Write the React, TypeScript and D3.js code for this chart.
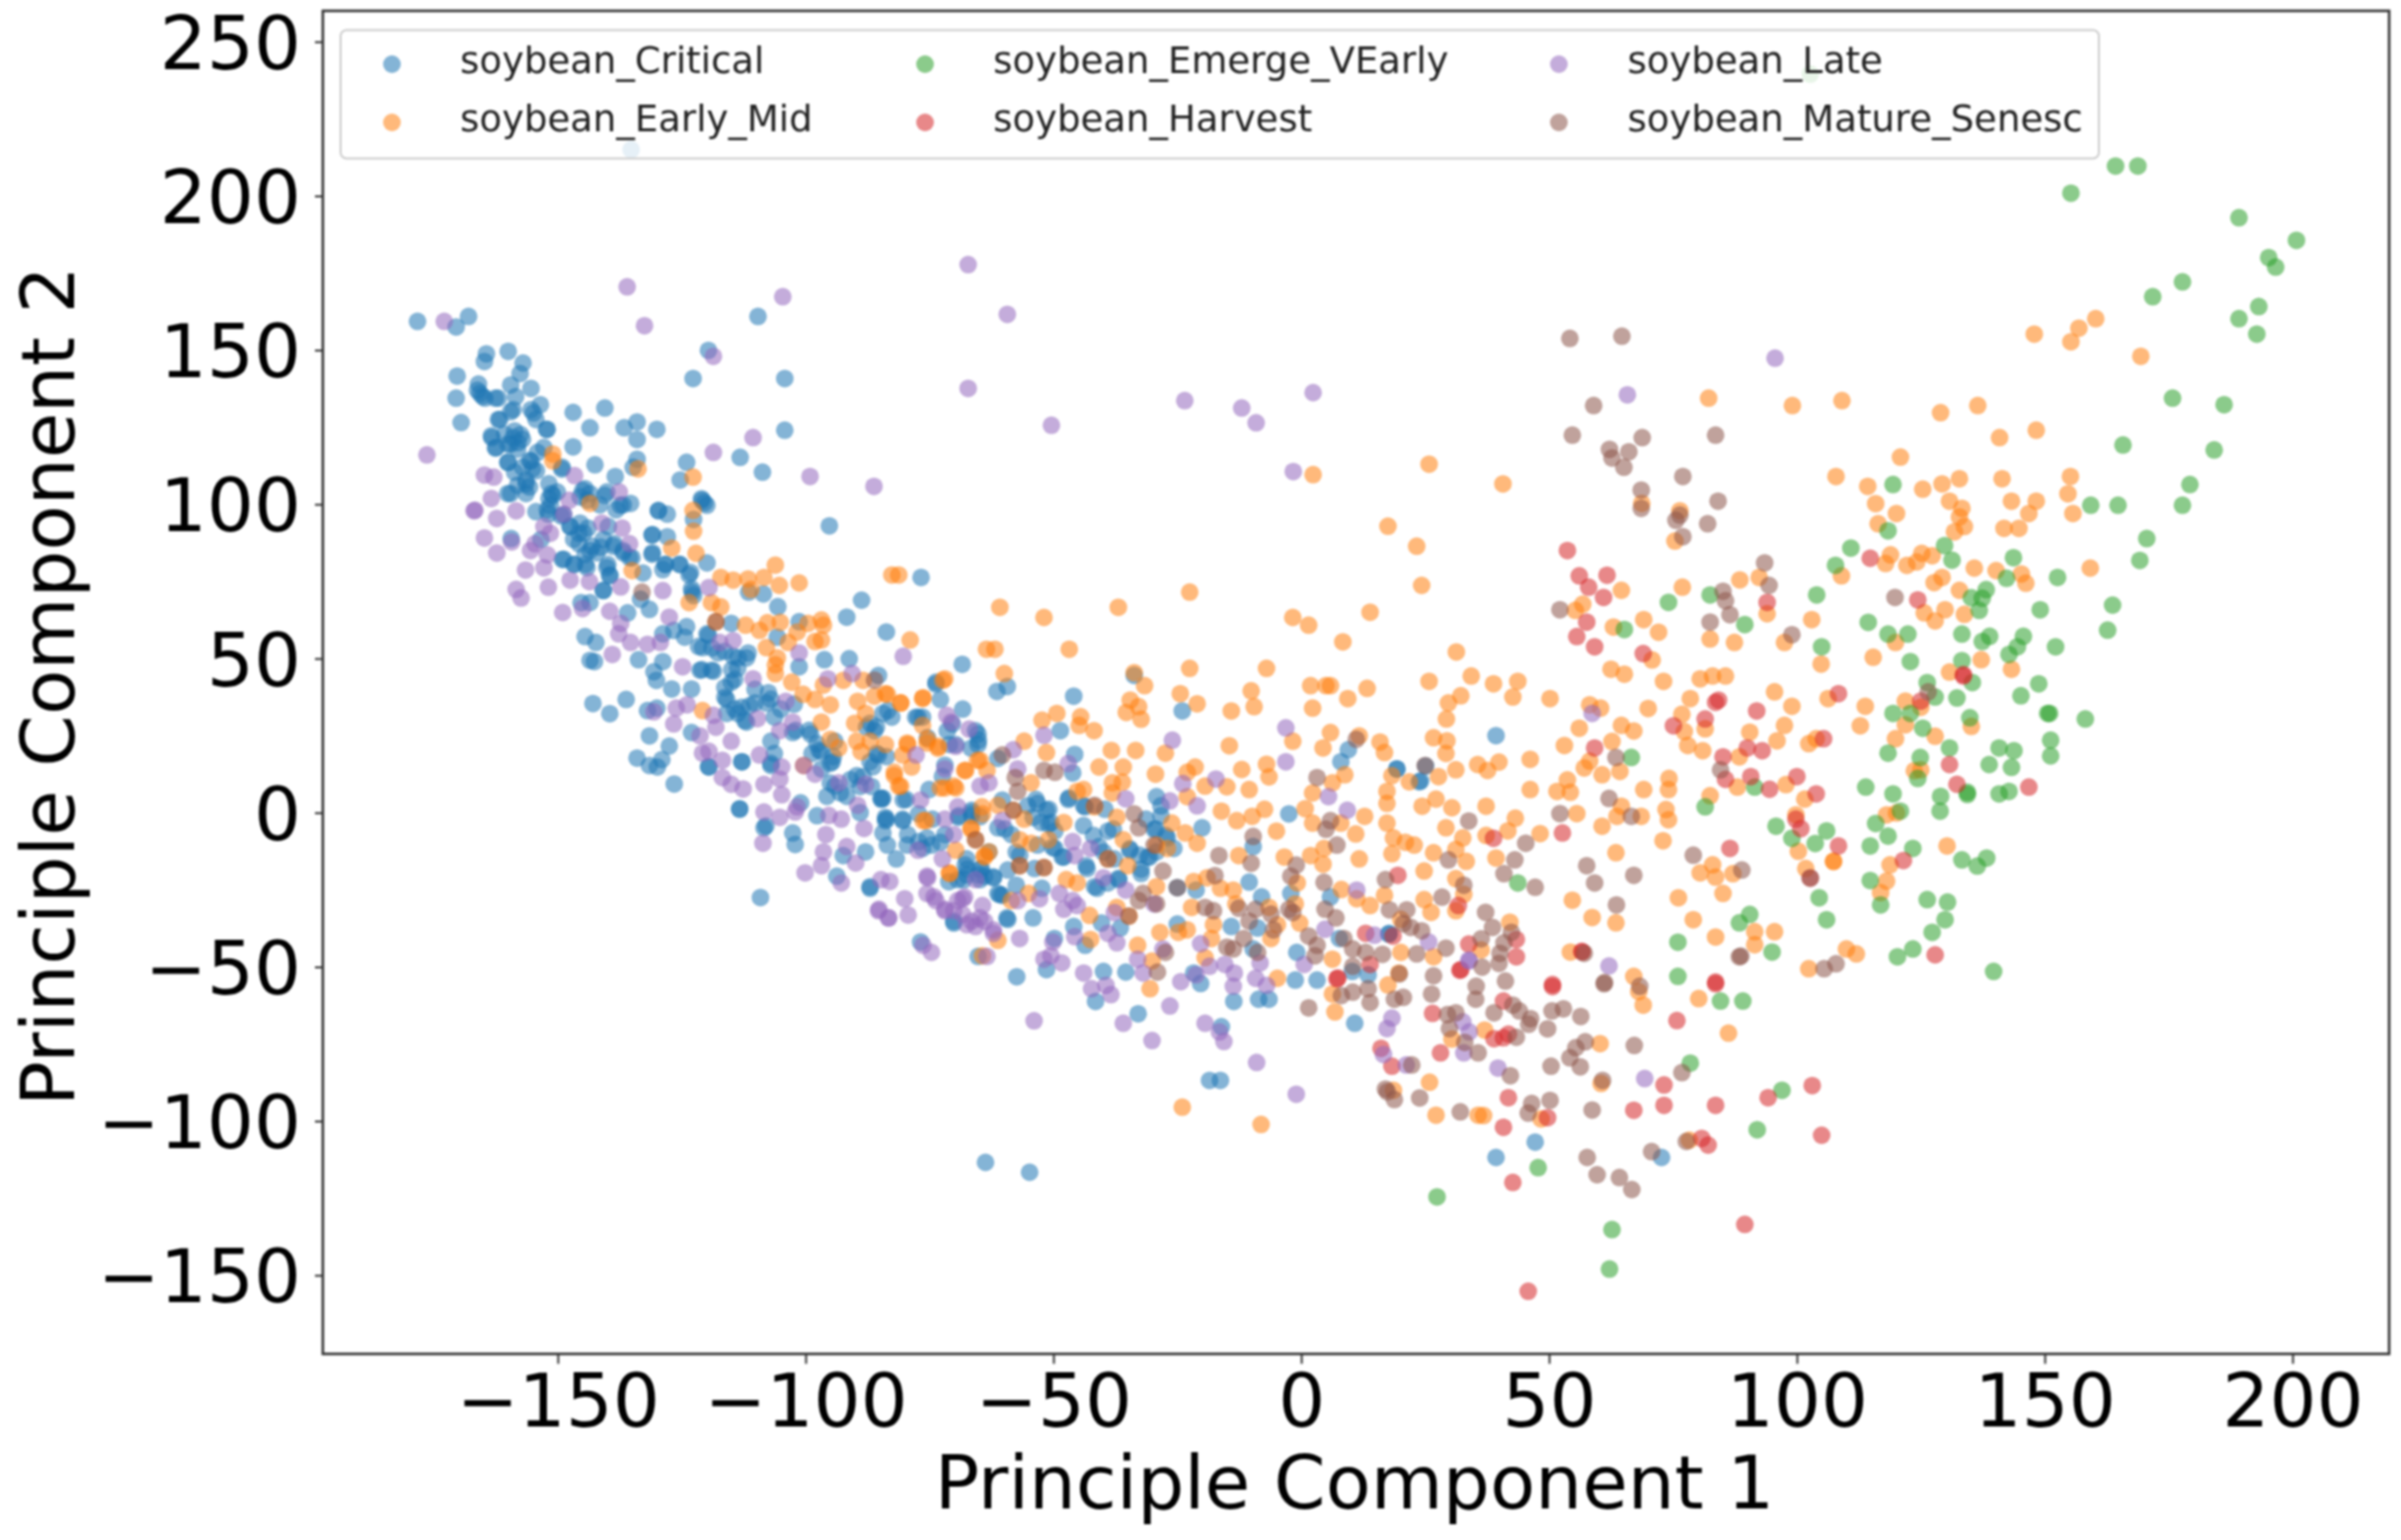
import React, { useEffect, useRef } from 'react';
import * as d3 from 'd3';

type Pt = [number, number];

const seriesNames = ['soybean_Critical', 'soybean_Early_Mid', 'soybean_Emerge_VEarly', 'soybean_Harvest', 'soybean_Late', 'soybean_Mature_Senesc'];
const seriesColors = ['#1f77b4', '#ff7f0e', '#2ca02c', '#d62728', '#9467bd', '#8c564b'];
const xTicks = [-150, -100, -50, 0, 50, 100, 150, 200];
const yTicks = [-150, -100, -50, 0, 50, 100, 150, 200, 250];

const critical: Pt[] = [
[-178.3,159.3],[-170.5,157.5],[-168,160.9],[-109.6,160.9],[-119.6,149.9],[-122.7,140.8],[-104.2,140.8],[-104.2,124],[-113.2,115.2],[-108.7,110.4],[-124,113.6],[-125.3,107.9],[-164.4,148.8],[-164.8,146.3],[-160,149.6],[-157,145.8],[-157.6,142.4],[-170.3,141.6],[-170.5,134.4],[-169.5,126.5],[-166,139],[-166.2,137],[-165.2,135],[-155.4,137.6],[-159.5,138.7],[-158.5,134.9],[-162.6,134.4],[-153.5,132.3],[-159.5,130],[-154.9,129.6],[-162,127.5],[-152.3,124.3],[-146.9,129.8],[-140.5,131.2],[-143.5,124.8],[-136.6,124.8],[-134,126.7],[-130,124.3],[-134,121],[-163.3,121.6],[-162.6,118.2],[-159,121.6],[-159.5,119.5],[-158,120],[-157.5,122.6],[-146.9,118.6],[-155.4,114],[-142.5,112.8],[-134,114.6],[-134.8,112],[-160,113.6],[-154.3,110.9],[-138.4,109],[-149.2,111.4],[-156.4,106.6],[-159.5,103.5],[-156.4,103.5],[-151.3,103.5],[-145,104.5],[-144,101.3],[-140.5,102.9],[-135.3,100.3],[-137.4,99.7],[-129.7,98],[-120.9,101.3],[-119.9,99.7],[-135.2,215],
[-159.4,88.9],[-151,102.9],[-151.5,99.6],[-151.9,96.8],[-149.3,96.2],[-147.5,92.8],[-145.7,90.6],[-143.9,92.3],[-145.7,87.2],[-143.5,85],[-141.3,86.1],[-138.6,87.2],[-136.8,85],[-135,82.7],[-139.9,80.5],[-139.5,77.1],[-148.8,82.2],[-146.6,80.5],[-144.4,80.5],[-140.8,72.1],[-132.8,77.7],[-128.4,80.5],[-128.8,78.8],[-131,83.8],[-127.9,89.5],[-131,90],[-125.3,80.5],[-123.5,77.1],[-123,72.6],[-122.6,70.4],[-129.7,97.9],[-127.9,96.8],[-143.5,103.5],[-121,101.8],[-120.4,100.5],[-122.6,95.1],[-95.2,93],[-119.9,81],[-76.7,76.3],[-111.5,71.5],[-108.5,70.9],[-105.6,66.8],[-88.7,68.9],[-91.7,63.4],[-83.7,58.6],[-145.3,68.1],[-143.5,68.1],[-133.3,69.2],[-131.5,65.9],[-135.9,64.8],[-128.8,58],[-126.6,59.1],[-124,60.3],[-124.4,56.9],[-119.9,58],[-115,61.4],[-144.5,57.1],[-142.3,55.2],[-143.5,49.4],[-142.6,49],[-133.7,49.6],[-130.6,45.7],[-128.8,49],[-130.1,42.9],[-127,40.1],[-123,40.1],[-121.3,46.2],[-119,46.2],[-120.8,53.5],[-117.7,51.8],[-114.6,50.7],[-111.9,50.2],[-113.7,46.8],[-115,42.3],[-115.9,36.7],[-115.9,32.2],[-113.7,32.2],[-111.9,29.4],[-110.2,35.6],[-107.9,35.6],[-107.5,38.9],[-110.2,40],[-105.7,56.9],[-101.3,61.9],[-101.3,47.3],[-96.2,49.6],[-91.2,49.9],[-68.4,48.1],[-85.3,44.5],[-73.7,42.3],[-72.8,36.7],[-68.3,33.6],[-142.9,35.4],[-139.5,32.1],[-136.2,36.7],[-131.9,33.1],[-130,33.9],[-131.5,24.9],[-127.5,21.6],[-134,17.7],[-129,17.2],[-131.5,15.3],[-129.9,14.8],[-126.5,9.3],[-123,26],[-119.5,14.8],[-112.8,16.5],[-107,15.3],[-107,23.2],[-102.6,26],[-99,25.5],[-96.8,19.8],[-94.6,16.5],[-94.1,8.6],[-89.7,12],[-84.4,4.7],[-113.3,1.3],[-108.4,-4.9],[-102.6,-6.6],[-102.1,-10.3],[-97.7,-1],[-93.7,-20.6],[-92.4,-13.9],[-87.9,-12.7],[-87,-24],[-109.1,-27.5],[-84.4,-6.6],[-83.9,-1.5],[-83.5,-10.5],[-79.5,-10.5],[-76.4,-11.6],[-80.4,-2.6],[-81.7,-15],[-75.5,-8.2],[-84.4,32.2],[-87,29],[-82.6,31],[-86.1,26.6],[-77.3,31],[-94.1,23.2],[-96.8,14.2],[-85.3,18.7],[-87,16.5],[-71,22.1],[-65.7,26.6],[-66.6,20.9],[-64.8,-1.3],[-67.5,-15],[-64.8,-21.7],[-69.3,-21.7],[-70.1,-35.8],
[-61.4,39.3],[-59.3,40.9],[-45.9,37.8],[-33.7,44.5],[-24,33],[-48.6,26.6],[-61.2,17.6],[-45.7,18.9],[-46.1,12.9],[-53.2,3],[-54.1,-1.5],[-51.4,0.8],[-47,4.3],[-43.6,1.9],[-51,-3.7],[-49.7,-6],[-58.5,-7.1],[-61.2,-4.9],[-63,-12.7],[-56.8,-13.8],[-53.2,-10.5],[-49.7,-11.6],[-62.1,-21.1],[-64.8,-18.3],[-60.3,-26.8],[-52.3,-24.5],[-47.9,-14.4],[-43.4,-17.2],[-41.7,-24],[-39,-22.8],[-36.8,-21.7],[-37.7,-15],[-34.5,-12.2],[-31,-14.4],[-29.2,-12.7],[-32.3,-18.3],[-39,-6],[-40.8,-11],[-29.2,5.2],[-28.3,-1],[-29.7,-5.4],[-27,-8.2],[-20,-4.9],[-25.7,-11.6],[-25,-24.3],[-21.2,-25.1],[-10.5,-22.5],[-8,-27.3],[-2.5,-0.4],[-9.7,-11],[5.9,-27.3],[-2.1,-26.2],[9.5,20.4],[8,16.5],[19.3,14.2],[24.1,10.3],[-54.1,-34.1],[-45.9,-36.9],[-40.3,-35.8],[-36.5,-37.4],[-43.6,-43],[-49.8,-40.8],[-51.4,-50.9],[-57.4,-53.2],[-65.2,-46.6],[-39.9,-51.5],[-35.4,-51.7],[-25,-36.1],[-21.7,-52],[-20.3,-55.4],[-13.6,-61.2],[-8.6,-60.5],[-6.5,-60.5],[-1.2,-54.3],[3.2,-54.3],[-0.9,-45.3],[-9.7,-44.2],[-14.1,-36.9],[-8.8,-37.4],[7.7,-40.8],[10.3,-51.5],[13.5,-52.6],[17.7,-39.1],[-41.5,-61.2],[-32.9,-65.2],[-16.1,-69.4],[10.8,-68.3],[-18.5,-86.8],[-16.3,-86.8],
[-76.8,-41.9],[-87,-24.5],[-83.9,-2.6],[-79.4,-7.1],[-77.2,-9.4],[-74.6,-10.5],[-71.9,-7.1],[-69.2,-1.5],[-84.8,4.7],[-80.3,4.1],[-77.2,-0.4],[-66.5,0.8],[-60.3,4.1],[-70.1,-35.2],[-59.4,-34.1],[-61.2,-26.2],[-63.9,-20.6],[-67.4,-18.3],[-71.9,15.4],[-75.4,24.3],[-71.4,26.6],[-65.2,25.5],[-65.2,22.1],[-69.7,22.1],[-73.7,41.7],
[39.3,25],[19.3,14.2],[25.1,15.1],[23.8,10],[17.7,-39.4],[-63.7,-113.4],[-54.8,-116.6],[39.3,-111.8],[47.2,-106.8],[72.7,-111.8],
[-165.7,136],[-164.7,134.4],[-162,134.4],[-159,130.7],[-161.7,127.5],[-155.4,130.7],[-154.4,127.5],[-152.1,124.3],[-163.4,122.2],[-162.4,118.4],[-160.7,122.7],[-158.7,123.8],[-157.1,121.1],[-160.1,119.5],[-158.1,117.9],[-160.1,113.6],[-155.7,114.2],[-154.1,116.8],[-152.8,118.4],[-157.1,112],[-155.1,111.5],[-158.7,110.4],[-156.4,107.8],[-158.1,106.2],[-155.7,105.6],[-160.1,103.5],[-149.1,112],[-151.8,106.7],[-150.1,104],[-151.8,101.9],[-152.1,98.2],[-154.4,97.6],[-148.8,96.6],[-144.5,105.1],[-145.5,102.4],[-141.5,99.8],[-140.1,104],[-147.5,92.8],[-145.5,93.9],[-146.8,88.6],[-144.8,90.7],[-143.1,86.4],[-140.8,88.6],[-138.8,86.4],[-139.8,92.8],[-136.8,84.3],[-135.5,82.7],[-142.1,84.3],[-144.5,83.7],[-140.1,79.5],[-139.5,76.8],[-136.8,99.8],[-138.2,98.2],[-130.9,90.2],[-128.2,80.5],[-130.9,84.3],[-125.5,80.5],[-123.2,77.9],[-122.9,71.5],[-149.1,82.1],[-146.8,80.5],[-144.1,79.5],[-140.8,72],[-153.4,88.6],
[-119.6,57.6],[-121.6,53.9],[-118.9,53.4],[-116.3,52.3],[-113.6,50.2],[-111.6,51.8],[-120.9,46.4],[-118.6,45.9],[-114.9,46.4],[-114.3,43.2],[-116.3,40.6],[-116.3,37.4],[-112.9,34.2],[-111.3,34.7],[-114.3,33.6],[-112.3,29.9],[-107,36.8],[-105,33.6],[-102.3,35.2],[-106.3,31],[-99.3,26.7],[-102,26.7],[-97.3,20.3],[-95,16],[-94.4,18.2],[-85.7,27.8],[-87.7,27.8],[-83.4,33.1],[-77.8,30.9],[-85.7,19.2],[-86.4,14.9],[-83.7,18.2],[-88.4,11.7],[-91,10.7],[-93,6.4],[-95,9.6],[-95.7,5.3],[-91.7,5.3],[-107,16],[-106.3,19.2],[-112.9,16.5],[-113.3,1.1],[-101,3.2],[-89,0],[-84.7,4.3],[-83.7,-2.1],[-80.4,-2.1],[-79.7,4.3],[-75.1,7.5],[-72.4,11.7],[-76.4,31],[-65.1,23.5],[-70.4,28.8],[-66.5,-1],[-74.4,-2.1],[-119.6,14.9],[-108,-4.3],[-97.7,22.4],[-98.7,19.2],[-86.7,8.5],[-89,8.5],
[-66.5,0],[-69.1,-1],[-59.8,-5.3],[-53.5,4.3],[-55.2,2.2],[-50.9,1.1],[-52.5,-3.2],[-50.5,-3.2],[-50.2,-11.2],[-57.5,-12.8],[-59.2,-18.6],[-62.1,-20.8],[-64.5,-18.1],[-65.1,-20.2],[-67.5,-20.2],[-68.1,-21.8],[-60.8,-26.6],[-57.5,-23.5],[-53.8,-18.1],[-48.2,-14.4],[-46.9,4.8],[-43.9,2.2],[-39.6,1.1],[-37.9,-5.3],[-43.9,-4.2],[-41.9,-7.4],[-39.9,-12.8],[-43.2,-18.1],[-41.2,-24.5],[-36.9,-21.3],[-32.3,-19.7],[-30.6,-14.4],[-27.3,-7.4],[-29.3,-5.3],[-28.3,2.2],[-31.3,-2.1],[-32.6,-13.8],[-34.6,-11.7],[-59.2,-34.6],[-72.8,-9.6],[-71.1,-22.4],[-67.8,-17],
];

const earlyMid: Pt[] = [
[-151,116.3],[-151,114.1],[-133.8,111.5],[-122.7,108.8],[-143.5,100.3],[-122.7,98],[2.4,109.6],
[147.9,155.2],[156.9,157.1],[155.3,152.7],[160.3,160.2],[169.4,148],[82.2,134.4],[99.1,132],[109.1,133.6],[129,129.7],[136.5,132],[148.3,124],[140.9,121.6],[68.7,100.3],[76.4,97.9],
[-122.6,91.3],[-127,85.8],[-122.1,84.1],[-135,78.5],[-117.1,76.3],[-114.6,75.4],[-111.6,75.8],[-108.4,76.3],[-106.1,80.3],[-105.3,73.7],[-111,72.4],[-101.3,74.5],[-82.6,77.1],[-81.2,77.1],[-78.9,56],[-63.5,53],[-123.5,68.1],[-119,68.1],[-117.1,66.7],[-118.1,61.9],[-112.1,60.8],[-109.3,59.1],[-107.7,61.6],[-105.1,61.7],[-101.7,58.6],[-99.5,61.4],[-96.8,62.5],[-96.4,60.8],[-98.1,55.5],[-96.8,56],[-103.5,55.2],[-107.9,53.5],[-105.7,50.2],[-106.1,47.9],[-106.1,45.1],[-102.8,42.3],[-100.5,38.4],[-96.4,41.4],[-98.1,36.7],[-95,35],[-92.4,42.9],[-88.4,42.9],[-83.5,38.4],[-86.1,37.8],[-89.5,36.1],[-80.8,35.6],[-76.4,37],[-71.9,43.4],[-120.8,33.1],[-96.8,29.4],[-95,23.8],[-93.3,21],[-90.1,29],[-87.9,32.2],[-89.7,23.2],[-88.8,19.8],[-87,23.2],[-83.9,22.1],[-79.5,22.6],[-76.4,28.3],[-75.5,22.6],[-73.3,20.9],[-82.1,13.1],[-80.8,8.6],[-78.6,14.8],[-80.4,18.7],[-100.4,15.3],[-75.7,-2.6],[-67.9,13.7],[-65.3,17],[-72.8,8],[-69.7,8],[-66.6,-4.9],[-64.4,1.9],[-69.7,-12.2],[-70.9,-19.7],[-63.9,-13.9],
[-60.8,66.6],[-51.9,63.3],[-36.9,66.6],[-61.8,53],[-46.8,53],[-22.5,46.8],[-7,46.8],[-1.7,63.3],[1.5,60.8],[8.4,55.4],[13.9,65],[-22.5,71.5],[-59.9,45.1],[-31.6,41.2],[-33.7,45.4],[-24.4,38.6],[-21,35.3],[-34.5,36.5],[-32.8,34.4],[-35.3,32.5],[-32.3,30.3],[-10.1,39.5],[-9.5,34.4],[-14.1,33],[1.9,41.2],[5,41.2],[5.9,41.2],[13.3,40.3],[9.4,37],[2.3,33.9],[-52.3,30],[-49.3,32.2],[-44.5,31.1],[-44.8,28.3],[-41.8,26.6],[-55.9,23.2],[-51.4,19.5],[-38.3,20.2],[-33.4,20.2],[-27.4,19.3],[-14.5,21.7],[-1.7,23.2],[5.9,26],[4.4,21],[11.7,24.9],[15.9,22.9],[16.8,19.5],[-40.8,14.8],[-35.9,14.8],[-29.4,12.5],[-21.4,14.8],[-12,14],[-7,15.7],[-6.5,11.6],[8.8,12.3],[18.3,12],[-67.7,13.7],[-64.8,17],[-63.4,13.7],[-54.5,9.7],[-70.1,8.6],[-71.9,8],[-43.9,7.5],[-45.2,6.9],[-38.1,9.7],[-38.1,6.4],[-36.1,9.9],[-23,5.2],[-23,13.1],[-19.4,8.6],[-15,8.4],[-10.5,7.5],[2.3,6.4],[0.8,1.3],[6.3,9.7],[17.3,6.9],[17.3,3],[-16.1,0.5],[-13,-2.6],[-9.9,-1.2],[-7.4,1.1],[-5,-6],[2.3,-3.4],[12.8,-1.2],[8,-3.4],[11,-6.9],[17.3,-3.4],[-26.1,-3.4],[-23.4,-6.6],[-21,-9.9],[-12.6,-13.9],[-3.4,-14.4],[4.6,-11.6],[1.9,-13.9],[4.4,-16.7],[11.7,-15],[18.3,-13.3],[18.6,-8.2],[21,-9.6],[22.8,-10.5],[16.8,-26.8],[13.9,-30.1],[11.2,-27.9],[8.1,-24.9],[-0.8,-22.8],[-13.7,-25.1],[-16.3,-24.5],[-19,-21.1],[-21.7,-22.3],[-29.2,-24],[-35,-17.2],[-37.2,-1.5],[-41.7,1.9],[-47.9,-3.2],[-45.2,-22.8],[-47.4,-21.7],[-51.9,-17.8],[-56.8,-17.2],[-56.8,-8.8],[-54.5,-9.9],[-51,-8.8],[-63,-12.7],[-65.7,-8.8],[-55.9,-2.1],[-58.1,0.8],[-61.2,2.4],[-64.3,-0.4],[-66.6,-5.4],[-63.9,-14.4],[-39,-15],[-35.9,-8.8],[-29.2,-10.5],[-27,-11.6],[-58.5,-28.5],[-55,-26.2],[-42.7,-33.3],[-37.2,-30.7],[-34.7,-33.5],[-28.5,-38.8],[-24.8,-38.8],[-23,-38],[-22.1,-30.7],[-17.7,-36.3],[-18.1,-40.8],[-6.1,-40.8],[-4.8,-36.3],[-0.3,-35.8],[-1.2,-29.6],[-6.5,-30.7],[-13.2,-29.6],[-42.5,-41.1],[-33,-43],[-30.1,-48.1],[-19.4,-47],[-4.8,-53.7],[-30.5,-57.1],[6.3,-47.5],[17.5,-55.9],[6.3,-58.8],[6.8,-64.6],[20.1,-45.3],[20.1,-34.6],[19.7,-52],[25.9,-87.4],[-24,-95.5],[-8.1,-101.1],[27.2,-98.1],[35.7,-98.1],[30.4,-73.4],[-64.3,-46.4],[-61.2,-41.4],
[-76.3,37.3],[-80.8,35.6],[-83.9,38.6],[-72.3,42.9],[-75.4,23.8],[-73.2,21.5],[-79.4,22.1],[-76.3,-2.6],[-71,-19.5],[-82.1,12],[-81.2,8.6],
[25.8,113],[40.7,106.6],[17.5,92.9],[23.3,86.4],[24.3,73.7],[31.3,52.1],[25.8,42.6],[34.3,44.3],[38.8,41.8],[43.7,42.6],[32.2,37.9],[42.7,37.5],[29.7,35.6],[50.2,37],[29.3,30.4],[26.7,24.3],[29.4,23.3],[29.2,19.2],[35.6,15.6],[37.6,13.7],[39.9,16.4],[46.2,17.3],[31.2,13.9],[27.7,11.7],[21.8,10],[46.2,7.5],[51.6,6.9],[54.3,6.6],[53.7,10.6],[37.3,2.1],[30.4,1.6],[27.2,4.4],[24.4,2.1],[43.2,-1.8],[41.7,-5.9],[48.2,-6.8],[55.6,-0.3],[60.7,-4.4],[39.3,-14.7],[32.6,-8.2],[29.2,-4.9],[26.7,-13],[31.2,-11.9],[33.3,-15.8],[24.8,-18.9],[31.2,-21.4],[32.8,-26.5],[24.8,-28.2],[26.2,-32.3],[31.2,-31.8],[42.1,-35.5],[36.3,-44.5],[54.7,-28.4],[58.7,-34],[63.5,-35.7],[54.3,-45.2],[67.1,-53.1],[26.7,-46.7],[63.5,-13],[73,-9.1],[60.7,12.3],[57.1,14.5],[58.2,16.7],[62.7,23.1],[64.3,13.4],[53.1,21.8],[56.1,27.4],[58.2,35],[60.4,33.9],[64.6,28.3],[67.1,26.5],[70,33.8],[69.1,7.5],[74.2,11.1],[74.1,7.5],[64.6,2.1],[63.7,-1.2],[68.6,-1.2],[73.6,1],[74.1,-2.3],[62.5,46.5],[65.2,44.9],[73.1,42.6],[80.5,43.4],[83,44.3],[85.6,44.3],[78.5,37],[76.8,31.9],[77.3,26.3],[81.5,27.2],[78,21.8],[81,20.1],[90.5,26.1],[95.5,39.2],[99,34.5],[97.5,28.3],[96,23.3],[102.4,22.4],[103.9,24],[88.4,18.1],[88,8.3],[97.8,9.1],[106.3,37],[113.8,34.5],[112.8,28.2],[119.9,24],[121.9,36.2],[121.9,28.5],[125,34.2],[127.9,24.8],[135.2,28],[123.7,13.6],[125,13.9],[143.3,46.5],[137.2,49.6],[130.8,45.6],[119.9,55.2],[115.4,50.4],[104.9,48.2],[97.5,55.2],[87.4,55.2],[82.5,56.3],[72.1,58.5],[69.1,62.6],[63,60.2],[70.8,49.5],[103,62.6],[94,64.5],[76.9,73.1],[64.6,72.1],[55.3,65.6],[56.8,67.6],[75.4,88.1],[88.5,75.5],[92.4,76.3],[109,76.8],[120.9,115.3],[107.9,109],[114.3,105.8],[125.4,104.9],[129.3,106.6],[132.8,108.3],[141.4,108.3],[155.2,109],[154.7,103.4],[143.3,101],[148.3,101],[115.9,100.2],[120.1,97],[116.4,93.7],[130.8,101],[133.3,98.7],[132.8,95.9],[133.8,92.8],[131.8,91.1],[141.8,92.2],[144.8,92.2],[146.8,97],[155.7,97],[159.2,79.3],[118.9,83.6],[117.9,80.8],[122.2,80.2],[124.2,81.3],[125.2,84.1],[127.3,83.3],[127.7,74.6],[129.3,76.3],[135.8,79.3],[140.2,78.5],[145.3,77.4],[146.2,74.4],[132.8,72.1],[125.7,64.8],[127.9,62.2],[129.9,65.8],[133.8,64.3],[130.3,-10.8],[107.4,-15.8],[107.4,-15.8],[100.3,-12.5],[101.8,-18.1],[99.8,-0.7],[101.6,4.4],[118.8,-16.9],[118.1,-22.2],[116.9,-25.9],[118.1,-0.7],[120.1,-0.1],[82.5,5.5],[80.5,-19.5],[83,-16.9],[83.6,-20.9],[87.1,-19.8],[85.1,-26.2],[76.1,-27.6],[79.1,-34.7],[83.6,-40.3],[91.5,-38.6],[95.5,-38.6],[91.5,-42.8],[110,-44.2],[112,-45.8],[102.4,-50.6],[37.3,-7.4],
[36.8,-98.2],[48.4,-99.3],[60.3,-74.9],[60.5,-87.8],[68.1,-58],[69,-62.4],[80.2,-60.3],[86.2,-71.5],[78.3,-106.2],[37,-70.5],[18.6,-90],
];

const emergeVEarly: Pt[] = [
[164.3,209.7],[168.8,209.7],[155.3,200.9],[189.2,192.9],[200.8,185.6],[195.2,180],[196.6,176.9],[177.8,172.1],[171.8,167.3],[193.2,164.1],[189.2,160.2],[192.8,155.2],[175.8,134.4],[186.2,132.3],[165.8,119.2],[184.2,117.6],[179.3,106.4],[177.8,99.7],[159.3,99.7],[164.8,99.7],[119.4,106.4],[102.7,239.5],
[170.6,88.9],[169.2,81.8],[118.4,91.4],[110.9,85.8],[107.8,80.2],[129.8,86.6],[131.3,81.9],[143.7,82.7],[142.3,76],[152.6,76.3],[149.1,65.8],[163.7,67.3],[162.7,59.2],[138.2,72.3],[135.2,69.7],[137.4,69.5],[136.8,65.6],[104,70.6],[114.4,61.7],[118.4,57.9],[122.4,57.9],[133.3,57.9],[138.9,57.2],[137.4,55.5],[145.7,57.2],[144.5,53.8],[142.8,51.3],[152.2,53.8],[122.9,49],[133.3,49.3],[105,53.8],[126.3,42.2],[135.4,42.2],[127.9,37.5],[132.3,37.2],[148.8,41.8],[145.2,37.9],[119.4,32.2],[122.9,32.2],[134.9,30.8],[150.6,32.2],[151,32.2],[158.2,30.4],[125.4,27.4],[151.2,23.5],[151.2,18.4],[140.8,21],[143.8,20.1],[130.8,21],[118.4,19.3],[124.9,17.9],[138.8,15.6],[143.3,14.7],[124.4,11.1],[113.9,8.3],[119.4,6.1],[129,5.3],[134.4,6.6],[134.4,5.9],[140.8,6.1],[142.8,6.9],[128.9,0.5],[120.9,0.5],[115.9,-3.5],[118.4,-7.6],[114.8,-10.8],[123.4,-11.6],[133.3,-15.3],[136.4,-17.3],[138.3,-14.7],[114.8,-22],[104.5,-27.6],[106,-34.7],[116.9,-29.9],[126.3,-28.2],[130.4,-29],[129.9,-34.7],[127.3,-38.8],[123.4,-44.2],[120.3,-46.7],[139.7,-51.5],[95.8,-4.4],[99,-8.3],[106,-5.9],[103.7,-10],[81.5,1.9],[91.5,8.3],[66.6,17.9],[65.2,59.4],[74.1,68.2],[82.5,70.6],[89.5,61],[43.7,-22.8],[90.5,-33],[88.4,-35.7],[76,-42],[95,-45.2],[76,-53.1],
[27.4,-124.6],[62.7,-135.2],[62.2,-148],[47.8,-115.1],[92,-102.8],[97,-90],[78.5,-81.2],[84.6,-61.1],[89.1,-61.1],
];

const harvest: Pt[] = [
[31.7,-30.1],[13,-39.1],[13.9,-49.2],[7.2,-53.9],
[53.7,85],[56.1,76.8],[61.7,77],[58,73.1],[61,69.8],[57.6,61.8],[55.6,57.1],[59.2,53.8],[69,51.6],[94,68.2],[114.8,82.5],[124.4,69],[133.6,44.8],[133.6,44.3],[108.4,38.6],[125,36.2],[83.6,35.8],[84.2,36.5],[91.9,33],[81.5,30.4],[75.1,28.2],[105.4,24],[59.2,21],[90,21],[93,20.1],[85.1,18.1],[90.7,11.7],[85.6,10.8],[100,11.7],[94.5,7.6],[103.9,6.1],[130.8,15.6],[132.3,9.2],[146.8,8.3],[99.8,-2.1],[100.8,-5.2],[108.4,-10.8],[86.5,-11.6],[121.5,-15.5],[102.7,-21.2],[52.7,-6.6],[38.8,-8.3],[19.5,-20.3],[33.8,-42.6],[32.2,-50.9],[43.4,-46.7],[43.4,-41.1],[50.7,-55.7],[56.6,-45],[83.6,-54.9],[127.9,-46.1],[18.5,-40],
[45.8,-155.2],[89.5,-133.5],[42.7,-119.9],[40.8,-102],[49.7,-98.9],[41.8,-92.4],[67.1,-96.5],[73.2,-94.9],[73.2,-88.3],[83.6,-94.9],[94.2,-92.4],[103.1,-88.5],[105,-104.6],[80.8,-105.6],[82.1,-107.8],[75.8,-67.4],[83.6,-55.5],[50.7,-56.4],[28.1,-77.9],[18.3,-82.2],[16.1,-76.4],[26.5,-65.1],[7.4,-53.6],[40.8,-61.1],[38.9,-73.3],[40.8,-73],[41.8,-71.8],[32,-51.1],[56.7,-45.1],
];

const late: Pt[] = [
[-172.9,159.3],[-176.4,116],[-164.8,109.5],[-162.9,108.8],[-163.4,101.9],[-166.7,98.1],[-136,170.5],[-132.5,157.9],[-118.6,148],[-104.6,167.3],[-110.6,121.6],[-118.6,116.8],[-146.6,109.3],[-137.6,104],[-147.7,101.3],
[-67.2,177.7],[-59.3,161.6],[-67.2,137.6],[-23.5,133.6],[-12,131.2],[-9.1,126.4],[2.4,136.2],[-50.4,125.6],[-99.1,109],[-86.2,105.8],[-1.6,110.6],[95.6,147.4],[65.8,135.5],
[-166.9,97.9],[-162.3,95.4],[-158.4,97.9],[-164.8,89.1],[-162.3,84.2],[-159.3,87.8],[-155.5,85],[-154.6,87.2],[-152.1,83.6],[-152.8,92.8],[-151.5,90.6],[-148.8,96.8],[-156.5,78.7],[-152.8,79.4],[-147.5,75.4],[-151.9,73.1],[-158.4,72.4],[-157.4,69.6],[-149,64.9],[-145,66.2],[-143.6,74.9],[-137.3,73.2],[-141.1,93.9],[-137,92.3],[-135.5,87.2],[-128.8,72],[-139.5,65.3],[-127.5,63.4],[-137.3,61.4],[-137.7,58],[-135.3,55.2],[-131.9,54.6],[-129.3,55.2],[-139,51.3],[-119.5,73],[-117.3,55.2],[-114.6,55.8],[-101.3,51.8],[-80.3,50.7],[-124.8,47.3],[-110.6,43.4],[-95.5,43.4],[-90.6,45.1],[-104,36.1],[-130.6,32.7],[-126.1,33.9],[-123.9,35],[-126.6,28.8],[-118.6,31.6],[-118.1,27.7],[-109.7,30.5],[-102.6,29.4],[-105.2,26.6],[-115,23.2],[-121.3,24.9],[-120.8,19.3],[-119.5,19.9],[-116.8,17],[-116.8,11.4],[-115,9.2],[-112.6,7.7],[-109.3,18.7],[-104.8,14.8],[-100.4,15.3],[-98.1,12.5],[-105.2,10.9],[-108.4,9.2],[-104.8,5.8],[-101.7,1.9],[-105.2,-1.5],[-108.4,0.2],[-102.1,0.2],[-108.6,-9.9],[-93.3,9.7],[-87.9,9.2],[-89.5,2.4],[-95.3,-0.9],[-92.8,-2.1],[-88.2,-5.1],[-95.9,-7.1],[-96.4,-12.7],[-96.8,-17.2],[-100.1,-19.5],[-91.7,-11],[-89.9,-16.3],[-92.8,-22.8],[-84.8,-21.7],[-83,-22.3],[-85.3,-31.8],[-83.2,-34.1],[-79.3,-33.2],[-80,-27.9],[-75.5,-20.6],[-76.8,4.1],[-77.7,18.7],[-71.5,31.6],[-70.6,29.4],[-69.7,21.5],[-67,27.1],[-71.9,14.2],[-69.3,1.9],[-71.9,-2.1],[-70.1,-7.1],[-72.4,-15],[-75.5,-26.2],[-73.7,-28.5],[-69.3,-28.5],[-71.9,-31.8],[-68.3,-33],[-67.5,-36.3],[-64.8,-34.1],[-77.3,-12.2],[-65.7,-21.7],[-64.8,8.6],
[-3.1,27.5],[-26,23.5],[-3.1,16.5],[-51.9,25.1],[-58.1,20.4],[-47,15.9],[-57.2,14.2],[-23.9,9.4],[-17.2,10.9],[-26.5,3.8],[-21,2.2],[-35.4,4.5],[5.5,5.2],[9.3,0.8],[-63,9.7],[-60.3,-2.6],[-46.1,-9.4],[-45.7,-13.9],[-42.5,-11.6],[11.2,-25.1],[-35.4,-25.1],[-39.9,-21.1],[-57.2,-28.5],[-48.8,-26.2],[-46.1,-28.5],[-45.2,-30.1],[-47.9,-31.3],[-52.8,-27.9],[-29.7,-29.6],[-37.7,-32.4],[-63.4,-46.6],[-56.8,-40.8],[-62.1,-39.1],[-45.7,-40.2],[-39,-39.1],[-37.2,-42.2],[-50.1,-41.9],[-50.5,-46.4],[-48.3,-48.7],[-51.9,-47.5],[-43.9,-52],[-42.3,-57.1],[-39.4,-56],[-38.4,-59],[-31.9,-52],[-33,-47.5],[-27.9,-44.2],[-20.3,-42.5],[-18.5,-49.8],[-15.4,-49.2],[-24.3,-54.8],[-21.2,-52.6],[-13.5,-52],[-13.7,-56.3],[-9.2,-53.7],[-7,-56],[-26.5,-62.7],[-53.9,-67.5],[-35.9,-68.3],[-30.1,-73.9],[-19.4,-68.3],[-16.5,-71.1],[-15.6,-74.2],[-9,-81],[-1,-91.3],[18.3,-66.6],[17.3,-70],[16.6,-78.4],[21.2,-81.8],[32.6,-67.8],[33.9,-71.1],[32.8,-77.9],[25.7,-41.9],[0.6,-49.2],[-8.3,-48.7],[4.8,-37.8],[14.8,-39.7],[33.9,-48.1],
[-75.4,-21.1],[-68.3,-27.9],[-62.1,-38],[-71.9,-31.3],[-76.3,-43],[-74.6,-45.3],[-85.2,-31.3],[-83.3,-34.1],[-66.5,-35.2],[-63.9,-35.2],[-70.1,-31.8],[-74.1,-27.3],[-67.9,-27.3],[-64.3,-30.1],[-65.7,-36.9],
[58.7,32.2],[33.8,-47.8],[62.1,-49.7],[69.3,-86.2],[39.7,-82.8],
];

const matureSenesc: Pt[] = [
[54.2,153.8],[59,132],[54.7,122.4],[64.7,154.5],[68.8,121.6],[83.6,122.4],
[-133,71.5],[-118.1,61.9],[-86.1,43],
[-51.9,13.7],[-49.7,13.1],[-57.7,11.4],[-60.3,18.7],[-57.2,6.9],[-41.7,2.4],[-33.7,-0.4],[-32.8,-4.9],[-29.7,-10.5],[-39,-15],[-51.9,-17.8],[-56.8,-17.2],[-65.7,-8.8],[-58.1,0.8],[-27.9,-18.9],[-31.9,-26.2],[-32.8,-28.5],[-29.2,-29.6],[-34.8,-33.5],[-17.4,-20.4],[-25,-24.3],[-19.4,-30.7],[-17.7,-31.8],[-12.6,-31],[-9.2,-31.3],[-6.1,-32.9],[-2.5,-31.3],[-1.7,-32.4],[-10.5,-35.2],[-5.6,-38],[-15,-43.6],[-13.7,-44.2],[-11.6,-40.8],[-8.8,-45.3],[-27.4,-45.3],[-29,-51.7],[-16.6,-13.9],[-10.1,-16.4],[-9.7,-7.7],[-1,-17],[-2.1,-20.6],[4.6,-22.6],[4.8,-31.3],[7,-34.1],[1.5,-40],[3.2,-43],[2.8,-46.4],[10.4,-44.2],[10.4,-49.8],[13,-45.3],[16.4,-45.9],[8.1,-59.3],[10.4,-58.2],[13.5,-57.1],[13.9,-61.6],[18.8,-60.5],[20.6,-59.9],[1.5,-63.3],[26.3,-58.8],[35.2,-60.5],[29.5,-65.5],[31.2,-64.9],[29.9,-70],[33,-74.5],[35.7,-77.9],[22.3,-81.8],[17,-89.6],[17.4,-90.5],[18.8,-93],[23.9,-92.5],[32.1,-97],[7.2,-10.5],[5,-5.4],[5.9,-2.6],[3.2,11.4],[11.1,23.8],[25,15.3],[17,-21.7],[8.6,-40.8],
[62.2,117.8],[66.1,117],[62.7,115],[65.1,112],[77,109],[68.6,104.6],[84.1,101],[68.6,98.7],[76.4,96.5],[75.6,94.8],[82,93.7],[77,89.5],[93.5,81],[94.4,73.7],[119.8,69.8],[85.1,71.8],[85.6,68.7],[86.5,64.2],[82.5,61.8],[99,57.7],[52.2,65.8],[126.5,39.2],[63.5,17.9],[84.6,13.9],[62.1,4.6],[52.2,-0.3],[66.6,-1.2],[33.8,-2.7],[45.3,-9.9],[29.7,-15.3],[43.1,-15.3],[40.9,-19.8],[57.6,-17.2],[59.2,-22.8],[67.1,-20.3],[79.1,-13.8],[88.9,-18.6],[102.7,-21.2],[47.2,-24.2],[32.8,-23.5],[28.4,-27.4],[63.6,-29.9],[37.2,-32.3],[38.6,-37.2],[17.8,-31.5],[21.3,-31.5],[20.6,-36],[22.1,-37.2],[24.3,-38.3],[23.3,-45.8],[29.2,-43.9],[36.3,-40.9],[40.9,-42.2],[42.4,-38.8],[40.1,-45.6],[36.5,-50.1],[39.9,-48.9],[57.1,-45.6],[61.2,-55.1],[41.2,-54.6],[26.7,-52.9],[19.8,-52.3],[88.4,-46.7],[105.5,-50.6],[107.9,-49],[68.3,-56.3],[35.3,-56.3],
[50.2,-93.3],[46.5,-94.3],[45.8,-97.4],[58.7,-96.4],[57.7,-111.8],[59.7,-117.4],[64.2,-118.3],[66.7,-122.2],[70.7,-109.9],[77.7,-106.6],[76.8,-84.3],[67.2,-75.5],[61.1,-55.5],[88.7,-46.5],[49.7,-70.1],[56.4,-66.1],[52.9,-63.6],[50.6,-64.3],[46.3,-66.8],[44,-64.3],[42.7,-62.4],[45.9,-68.6],[38.9,-64.9],[43.4,-72.8],[57.3,-74.3],[55.4,-76.2],[54.2,-79.5],[56.3,-82.4],[50.4,-82.2],[42.2,-85.3],[60.8,-86.8],
];

const allSeries = [critical, earlyMid, emergeVEarly, harvest, late, matureSenesc];

const App: React.FC = () => {
  const svgRef = useRef<SVGSVGElement | null>(null);

  useEffect(() => {
    if (!svgRef.current) return;
    const svg = d3.select(svgRef.current);
    svg.selectAll('*').remove();

    const fontFamily = '"DejaVu Sans", sans-serif';
    const box = { left: 327, right: 2420, top: 11, bottom: 1371.5 };

    const xScale = d3.scaleLinear().domain([-197.4, 219.5]).range([box.left, box.right]);
    const yScale = d3.scaleLinear().domain([-175.5, 260]).range([box.bottom, box.top]);

    const g = svg.append('g');

    // --- points ---
    allSeries.forEach((points, i) => {
      g.append('g').selectAll('circle').data(points).enter().append('circle')
        .attr('cx', d => xScale(d[0])).attr('cy', d => yScale(d[1])).attr('r', 9)
        .attr('fill', seriesColors[i]).attr('fill-opacity', 0.55);
    });

    // --- axes ---
    const xAxis = g.append('g').attr('transform', `translate(0,${box.bottom})`)
      .call(d3.axisBottom(xScale).tickValues(xTicks).tickFormat(d3.format('d')).tickSize(10).tickPadding(10));
    const yAxis = g.append('g').attr('transform', `translate(${box.left},0)`)
      .call(d3.axisLeft(yScale).tickValues(yTicks).tickFormat(d3.format('d')).tickSize(8).tickPadding(14));
    [xAxis, yAxis].forEach(a => {
      a.select('.domain').remove();
      a.selectAll('line').attr('stroke', '#333').attr('stroke-width', 2);
      a.selectAll('text').attr('fill', '#000').attr('font-size', 75).attr('font-family', fontFamily);
    });
    yAxis.selectAll('text').attr('dy', '0.36em');

    g.append('rect')
      .attr('x', box.left).attr('y', box.top)
      .attr('width', box.right - box.left).attr('height', box.bottom - box.top)
      .attr('fill', 'none').attr('stroke', '#333').attr('stroke-width', 2.6);

    g.append('text').attr('x', 1372).attr('y', 1528).attr('text-anchor', 'middle')
      .attr('font-size', 75).attr('font-family', fontFamily).attr('fill', '#000')
      .text('Principle Component 1');
    g.append('text').attr('transform', 'translate(75,695) rotate(-90)').attr('text-anchor', 'middle')
      .attr('font-size', 75).attr('font-family', fontFamily).attr('fill', '#000')
      .text('Principle Component 2');

    // --- legend, three columns filled top to bottom ---
    g.append('rect').attr('x', 345).attr('y', 30.5).attr('width', 1781).attr('height', 130).attr('rx', 6)
      .attr('fill', '#fff').attr('fill-opacity', 0.8).attr('stroke', '#ccc').attr('stroke-width', 2);
    const legendMarkerX = [397, 937, 1579];
    const legendTextX = [466, 1006, 1648.5];
    const legendRowY = [65, 124];
    seriesNames.forEach((name, i) => {
      const col = Math.floor(i / 2);
      const row = i % 2;
      g.append('circle').attr('cx', legendMarkerX[col]).attr('cy', legendRowY[row]).attr('r', 9)
        .attr('fill', seriesColors[i]).attr('fill-opacity', 0.55);
      g.append('text').attr('x', legendTextX[col]).attr('y', legendRowY[row] + 9)
        .attr('font-size', 37.5).attr('font-family', fontFamily).attr('fill', '#222').text(name);
    });
  }, []);

  return (
    <svg
      ref={svgRef}
      width={2432}
      height={1560}
      style={{ position: 'absolute', left: 0, top: 0, background: '#fff', filter: 'blur(0.8px)' }}
    />
  );
};

export default App;
